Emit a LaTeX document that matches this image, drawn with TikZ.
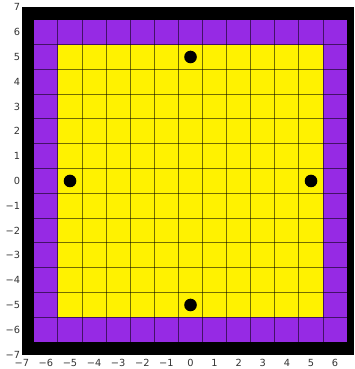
\documentclass[tikz,border=0pt]{standalone}
\usepackage{fontspec}
\setmainfont{DejaVu Sans}
\usepackage{tikz}
\usepackage{xcolor}
\definecolor{violeta}{RGB}{150,42,228}
\newcommand{\etiqueta}[1]{\ifnum#1<0 −\number-#1\else#1\fi}
\tikzset{
  rejilla/.style={black,opacity=0.55,line width=1pt},
  punto/.style={circle,fill=black,inner sep=0pt,minimum size=12.6pt},
  etiq/.style={inner sep=0pt,font=\fontsize{9.8}{11}\selectfont,text=black!80}
}
\begin{document}
\begin{tikzpicture}[x=24.1pt,y=24.8pt]
\useasboundingbox (-7.905,-7.581) rectangle (6.784,7.298);
% Fondo
\fill[black] (-7,-7) rectangle (6.784,7);
\fill[violeta] (-6.5,-6.5) rectangle (6.5,6.5);
\fill[yellow] (-5.5,-5.5) rectangle (5.5,5.5);
% Rejilla
\foreach \i in {-6.5,-5.5,...,6.5} {
  \draw[rejilla] (\i,-6.5) -- (\i,6.5);
  \draw[rejilla] (-6.5,\i) -- (6.5,\i);
}
% Puntos
\node[punto] (norte) at (0,5) {};
\node[punto] (sur) at (0,-5) {};
\node[punto] (oeste) at (-5,0) {};
\node[punto] (este) at (5,0) {};
% Ejes
\foreach \x in {-7,...,6}
  \node[etiq,anchor=base] (ex\x) at (\x,-7.47) {\etiqueta{\x}};
\foreach \y in {-7,...,7}
  \node[etiq,anchor=base east] (ey\y) at (-7.06,\y-0.145) {\etiqueta{\y}};
\end{tikzpicture}
\end{document}
